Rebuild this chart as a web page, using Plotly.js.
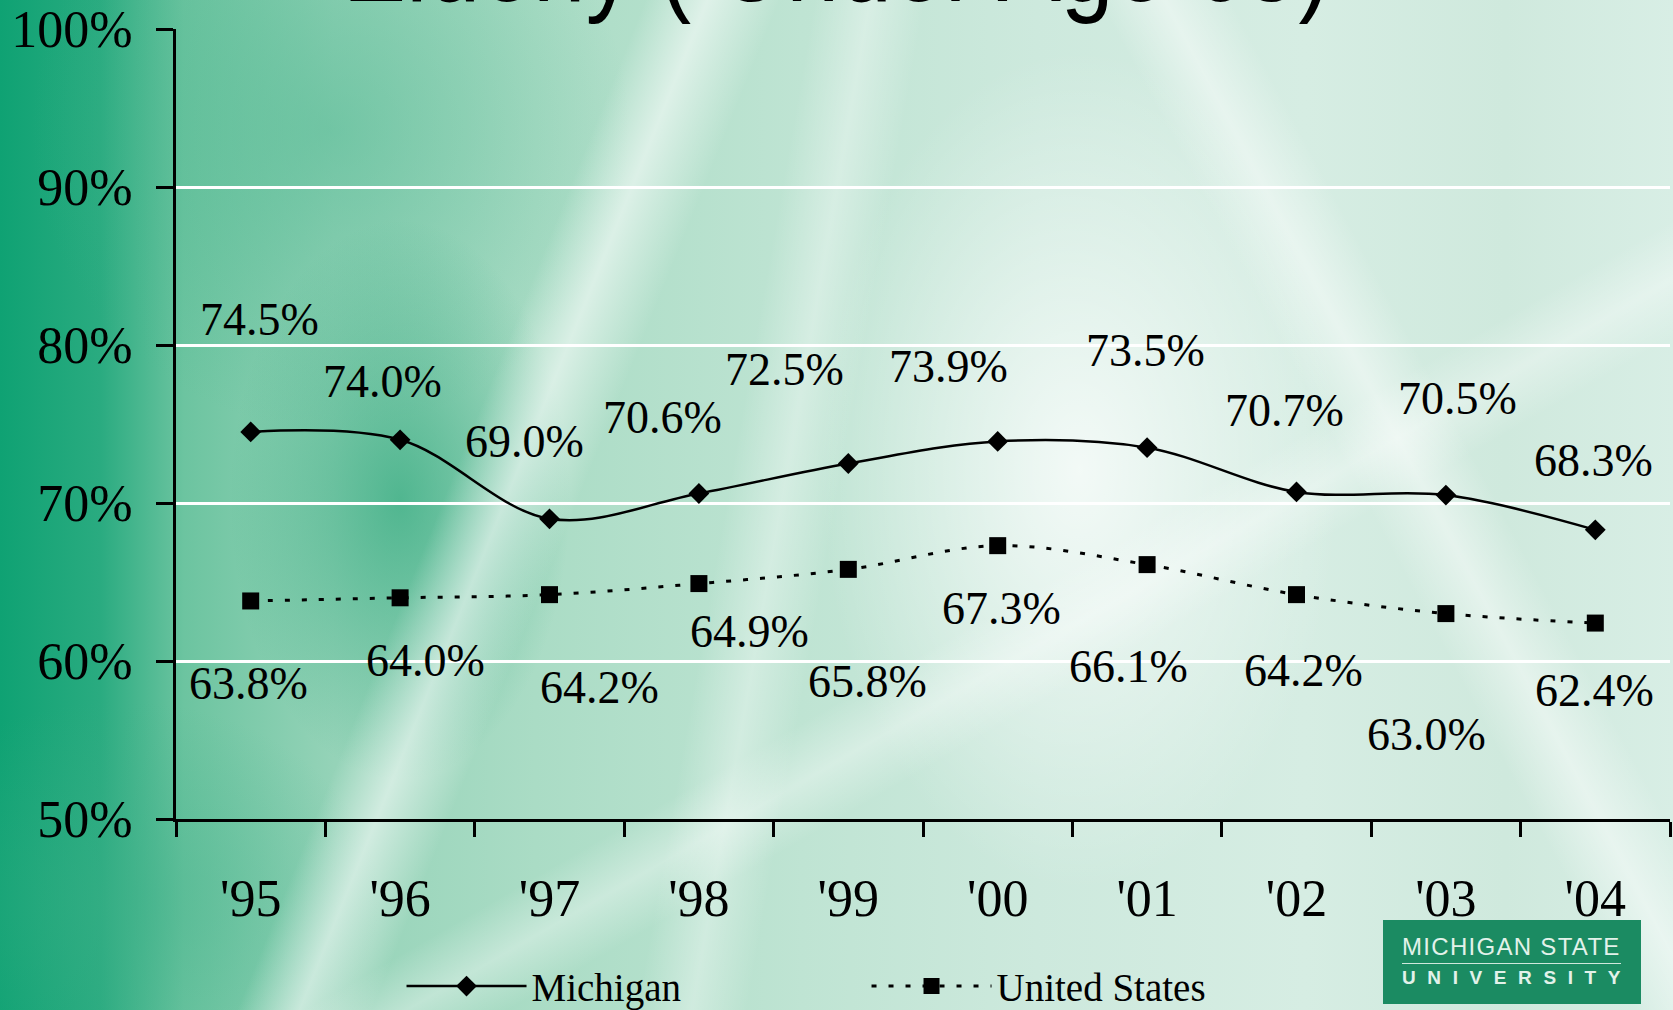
<!DOCTYPE html>
<html>
<head>
<meta charset="utf-8">
<script src="https://cdn.plot.ly/plotly-3.0.1.min.js"></script>
<style>
  html, body { margin: 0; padding: 0; }
  body { width: 1673px; height: 1010px; overflow: hidden; position: relative; }
  #bg {
    position: absolute; left: 0; top: 0; width: 1673px; height: 1010px;
    background:
      linear-gradient(112deg, rgba(255,255,255,0) 31%, rgba(255,255,255,0.55) 34%, rgba(255,255,255,0) 37.5%),
      linear-gradient(100deg, rgba(255,255,255,0) 44%, rgba(255,255,255,0.35) 47%, rgba(255,255,255,0) 50%),
      linear-gradient(62deg, rgba(255,255,255,0) 74%, rgba(255,255,255,0.45) 77%, rgba(255,255,255,0) 80%),
      linear-gradient(150deg, rgba(255,255,255,0) 60%, rgba(255,255,255,0.35) 63%, rgba(255,255,255,0) 66%),
      radial-gradient(ellipse 260px 420px at 1080px 470px, rgba(255,255,255,0.75), rgba(255,255,255,0) 100%),
      radial-gradient(ellipse 170px 280px at 400px 500px, rgba(40,165,120,0.65), rgba(40,165,120,0) 100%),
      radial-gradient(ellipse 300px 300px at 330px 130px, rgba(70,180,140,0.45), rgba(70,180,140,0) 100%),
      radial-gradient(ellipse 260px 200px at 120px 900px, rgba(60,175,135,0.45), rgba(60,175,135,0) 100%),
      linear-gradient(to right, #0fa273 0%, #2aab80 6%, #6cc4a0 11%, #95d3b8 20%, #aadcc5 32%, #bfe4d3 48%, #cde9dd 62%, #d6ede3 78%, #cfe9dd 90%, #d8eee5 100%);
  }
  #title {
    position: absolute; left: 0; top: -79px; width: 1673px; text-align: center;
    font-family: "Liberation Sans", Arial, sans-serif; font-size: 95px; line-height: 95px;
    color: #000; white-space: pre; transform: scaleY(1.15); transform-origin: 50% 80px;
  }
  #chart { position: absolute; left: 0; top: 0; width: 1673px; height: 1010px; }
  #logo {
    position: absolute; left: 1383px; top: 920px; width: 258px; height: 84px;
    background: #1b8b62; color: #e2f2ea; font-family: "Liberation Sans", Arial, sans-serif;
  }
  #logo .l1 { position: absolute; left: 19px; top: 15px; width: 224px; font-size: 24px; line-height: 24px; letter-spacing: 1.3px; white-space: nowrap; }
  #logo .rule { position: absolute; left: 19px; top: 43px; width: 219px; height: 1px; background: #cfe8dc; }
  #logo .l2 { position: absolute; left: 19px; top: 48px; width: 234px; font-size: 19px; line-height: 19px; font-weight: bold; letter-spacing: 11.6px; white-space: nowrap; }
</style>
</head>
<body>
<div id="bg"></div>
<div id="title">Elderly ( Under Age 65)</div>
<div id="chart"></div>
<div id="logo"><div class="l1">MICHIGAN STATE</div><div class="rule"></div><div class="l2">UNIVERSITY</div></div>
<script>
// Share of people under age 65 with the given coverage, Michigan vs. United States
const years = ["'95", "'96", "'97", "'98", "'99", "'00", "'01", "'02", "'03", "'04"];
const michigan = [74.5, 74.0, 69.0, 70.6, 72.5, 73.9, 73.5, 70.7, 70.5, 68.3];
const unitedStates = [63.8, 64.0, 64.2, 64.9, 65.8, 67.3, 66.1, 64.2, 63.0, 62.4];

// Label offsets from each point, in pixels [right, up]
const michiganLabelShift = [[9, 112], [-18, 58], [-25, 77], [-36, 76], [-64, 94], [-49, 75], [-2, 97], [-12, 81], [12, 97], [-2, 69]];
const usLabelShift = [[-2, -83], [25, -63], [50, -93], [51, -48], [19, -112], [4, -63], [-19, -102], [7, -76], [-19, -121], [-1, -67]];

const serif = "Liberation Serif, Times New Roman, serif";

const traces = [
  {
    name: 'Michigan', x: years, y: michigan, type: 'scatter', mode: 'lines+markers',
    line: { color: '#000', width: 2.5, shape: 'spline', smoothing: 1 },
    marker: { symbol: 'diamond', size: 16, color: '#000' }
  },
  {
    name: 'United States', x: years, y: unitedStates, type: 'scatter', mode: 'lines+markers',
    line: { color: '#000', width: 3, dash: '5px,12px', shape: 'spline', smoothing: 1 },
    marker: { symbol: 'square', size: 17, color: '#000' }
  }
];

const fmt = v => v.toFixed(1) + '%';
const annotations = [];
years.forEach((yr, i) => {
  annotations.push({ x: yr, y: michigan[i], text: fmt(michigan[i]), showarrow: false,
    xshift: michiganLabelShift[i][0], yshift: michiganLabelShift[i][1],
    font: { family: serif, size: 46, color: '#000' } });
  annotations.push({ x: yr, y: unitedStates[i], text: fmt(unitedStates[i]), showarrow: false,
    xshift: usLabelShift[i][0], yshift: usLabelShift[i][1],
    font: { family: serif, size: 46, color: '#000' } });
});

const layout = {
  width: 1673, height: 1010,
  margin: { l: 176, r: 3, t: 29, b: 191, pad: 0, autoexpand: false },
  paper_bgcolor: 'rgba(0,0,0,0)', plot_bgcolor: 'rgba(0,0,0,0)',
  showlegend: true,
  legend: {
    orientation: 'h', xref: 'container', x: 0.240, xanchor: 'left',
    yref: 'container', y: 0.0235, yanchor: 'middle',
    bgcolor: 'rgba(0,0,0,0)', itemwidth: 120, entrywidth: 330,
    font: { family: serif, size: 39, color: '#000' }
  },
  xaxis: {
    type: 'category', range: [-0.5, 9.5], fixedrange: true, automargin: false,
    showline: true, linecolor: '#000', linewidth: 3,
    ticks: 'outside', ticklen: 15, tickwidth: 3, tickcolor: '#000', tickson: 'boundaries',
    showgrid: false, ticklabelstandoff: 32,
    tickfont: { family: serif, size: 52, color: '#000' }
  },
  yaxis: {
    range: [50, 100], dtick: 10, ticksuffix: '%', fixedrange: true, automargin: false,
    showline: true, linecolor: '#000', linewidth: 3,
    ticks: 'outside', ticklen: 17, tickwidth: 3, tickcolor: '#000',
    showgrid: true, gridcolor: '#fff', gridwidth: 3, zeroline: false,
    ticklabelstandoff: 13,
    tickfont: { family: serif, size: 52, color: '#000' }
  },
  annotations: annotations
};

Plotly.newPlot('chart', traces, layout, { displayModeBar: false, staticPlot: true });
</script>
</body>
</html>
